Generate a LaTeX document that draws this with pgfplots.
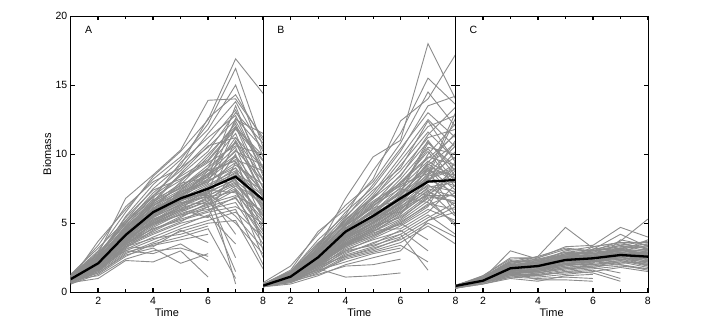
\documentclass[border=0pt]{standalone}
\usepackage{fontspec}
\setmainfont{Liberation Sans}
\usepackage{pgfplots}
\pgfplotsset{compat=1.18}

\definecolor{linegray}{RGB}{140,140,140}

% one simulated trajectory: values at time 1,2,3,...
\newcommand{\ser}[1]{\addplot[gl] table[row sep=\\, header=false, x expr=\coordindex+1, y index=0] {#1};}

\pgfplotsset{
  gl/.style={color=linegray, line width=0.9bp},
  panel/.style={
    scale only axis, width=192.4bp, height=276.3bp,
    anchor=south west,
    xmin=1, xmax=8, ymin=0, ymax=20,
    xtick={2,4,6,8}, minor xtick={3,5,7},
    ytick={0,5,10,15,20},
    tick align=inside, tick pos=both,
    major tick length=4bp, minor tick length=3bp,
    axis line style={line width=0.8bp},
    tick style={black, line width=0.6bp},
    every major x tick/.append style={line width=1.4bp},
    ticklabel style={font=\fontsize{10.5bp}{12bp}\selectfont},
    xticklabel style={yshift=-1bp},
    label style={font=\fontsize{11bp}{13bp}\selectfont},
    /pgf/number format/assume math mode=true,
    xlabel={Time},
    xlabel style={at={(axis description cs:0.5,0)}, anchor=center, yshift=-20bp},
  },
}

\begin{document}
\begin{tikzpicture}
\path (0,0) rectangle (712bp,325bp);

% ---------------- A ----------------
\begin{axis}[panel, at={(70.7bp,32.7bp)}, ylabel={Biomass},
  ylabel style={at={(axis description cs:-0.122,0.5)}, anchor=center}]
\ser{1.2\\3.0\\5.8\\8.4\\10.2\\12.5\\16.9\\14.4\\}
\ser{1.1\\2.8\\6.8\\8.5\\10.3\\13.9\\14.0\\11.2\\}
\ser{1.0\\2.5\\5.5\\7.8\\9.6\\12.2\\16.2\\10.5\\}
\ser{0.9\\3.7\\6.0\\8.2\\9.8\\11.8\\15.0\\9.8\\}
\ser{1.3\\3.2\\5.2\\7.5\\9.2\\12.6\\14.3\\11.0\\}
\ser{1.0\\2.4\\4.8\\7.0\\9.0\\11.5\\13.8\\10.2\\}
\ser{1.1\\2.6\\5.0\\7.2\\8.8\\10.8\\13.2\\9.0\\}
\ser{0.8\\2.2\\4.5\\6.8\\9.4\\11.2\\12.8\\8.6\\}
\ser{1.2\\3.4\\6.2\\8.0\\9.0\\10.5\\12.5\\11.5\\}
\ser{0.9\\2.0\\4.2\\6.5\\8.5\\10.2\\13.0\\10.8\\}
\ser{1.0\\2.3\\4.6\\6.2\\7.8\\9.8\\12.2\\8.0\\}
\ser{1.1\\2.7\\5.4\\7.4\\8.2\\9.5\\11.8\\9.5\\}
\ser{0.7\\1.8\\3.8\\6.0\\8.0\\10.0\\12.0\\7.5\\}
\ser{1.0\\2.1\\4.4\\6.4\\7.6\\9.2\\11.5\\6.8\\}
\ser{1.2\\2.9\\4.9\\6.6\\8.6\\10.6\\11.2\\8.2\\}
\ser{0.8\\1.9\\4.0\\5.8\\7.4\\9.0\\10.8\\7.2\\}
\ser{1.0\\2.2\\4.3\\5.9\\7.0\\8.6\\10.5\\5.8\\}
\ser{0.9\\2.4\\4.7\\6.3\\7.2\\8.4\\10.2\\9.2\\}
\ser{1.1\\2.0\\3.9\\5.6\\6.8\\8.2\\9.8\\6.2\\}
\ser{1.0\\2.6\\4.1\\5.4\\6.9\\8.8\\9.5\\5.2\\}
\ser{0.8\\1.7\\3.6\\5.5\\7.3\\8.0\\9.2\\7.8\\}
\ser{1.2\\2.5\\4.4\\5.7\\6.6\\7.6\\9.0\\4.5\\}
\ser{0.9\\2.2\\4.2\\5.9\\6.8\\7.8\\8.8\\6.0\\}
\ser{1.0\\1.9\\3.7\\5.2\\6.4\\7.5\\8.5\\7.0\\}
\ser{0.7\\1.6\\3.4\\5.0\\6.2\\7.2\\8.2\\3.8\\}
\ser{1.1\\2.3\\4.5\\6.1\\7.0\\7.0\\8.0\\5.5\\}
\ser{0.9\\2.1\\4.0\\5.3\\6.0\\6.8\\7.8\\6.4\\}
\ser{1.0\\2.0\\3.5\\4.8\\5.8\\6.6\\7.5\\2.5\\}
\ser{0.8\\1.8\\3.8\\5.1\\6.3\\7.4\\7.2\\4.8\\}
\ser{1.2\\2.4\\4.1\\5.6\\6.5\\6.4\\7.0\\5.9\\}
\ser{0.6\\1.5\\3.2\\4.5\\5.5\\6.2\\6.8\\4.2\\}
\ser{0.9\\2.0\\3.9\\5.0\\5.6\\6.0\\6.5\\3.5\\}
\ser{1.0\\2.2\\3.6\\4.6\\5.2\\5.8\\6.2\\5.0\\}
\ser{0.8\\1.7\\3.3\\4.2\\5.0\\5.5\\6.0\\2.0\\}
\ser{1.1\\2.5\\4.3\\5.8\\6.7\\7.2\\5.5\\3.2\\}
\ser{0.9\\1.9\\3.5\\4.4\\5.4\\6.5\\5.0\\2.8\\}
\ser{1.0\\2.0\\3.0\\3.8\\4.6\\5.2\\5.8\\4.0\\}
\ser{0.7\\1.4\\2.8\\3.6\\4.4\\5.0\\5.2\\1.7\\}
\ser{1.2\\2.3\\4.0\\5.4\\6.4\\7.0\\4.2\\}
\ser{0.8\\1.6\\3.1\\4.0\\4.8\\5.6\\3.5\\}
\ser{1.0\\2.1\\3.7\\4.9\\5.9\\6.9\\2.5\\}
\ser{0.9\\1.8\\3.4\\4.3\\5.1\\6.2\\1.5\\}
\ser{1.1\\2.2\\3.9\\5.2\\6.0\\7.6\\0.6\\}
\ser{0.6\\1.3\\2.6\\3.5\\4.0\\4.6\\1.0\\}
\ser{1.0\\1.9\\3.3\\3.9\\4.2\\4.8\\}
\ser{0.8\\1.5\\2.9\\3.4\\3.8\\4.2\\}
\ser{0.9\\1.2\\2.4\\3.0\\3.2\\2.6\\}
\ser{0.7\\1.0\\2.3\\2.2\\3.0\\1.1\\}
\ser{0.8\\1.4\\2.7\\3.2\\2.1\\2.8\\}
\ser{1.0\\1.6\\3.0\\2.8\\3.5\\2.3\\}
\ser{0.9\\1.7\\3.2\\3.3\\4.5\\3.6\\}
\ser{1.1\\2.4\\4.6\\6.3\\7.4\\8.6\\9.6\\8.8\\}
\ser{1.0\\2.6\\5.0\\6.9\\8.1\\9.4\\10.6\\10.0\\}
\ser{0.8\\2.0\\4.1\\6.0\\7.1\\8.1\\9.0\\6.6\\}
\ser{0.9\\1.9\\3.8\\5.6\\6.6\\7.7\\8.6\\7.4\\}
\ser{1.0\\2.2\\4.4\\5.9\\7.0\\7.9\\12.6\\10.4\\}
\ser{1.1\\2.5\\4.7\\6.5\\7.9\\8.3\\13.5\\8.4\\}
\ser{0.9\\2.0\\4.0\\5.5\\6.3\\7.3\\12.0\\9.6\\}
\ser{0.8\\1.7\\3.6\\5.3\\6.1\\6.7\\11.0\\7.6\\}
\ser{1.0\\2.3\\4.2\\5.8\\6.9\\7.1\\10.0\\3.0\\}
\ser{1.2\\2.8\\5.1\\6.7\\7.7\\8.9\\7.5\\5.3\\}
\ser{0.9\\2.1\\3.9\\5.0\\6.0\\5.4\\9.4\\6.9\\}
\ser{1.0\\2.3\\4.3\\5.9\\7.1\\8.0\\9.4\\7.3\\}
\ser{0.9\\2.0\\4.0\\5.6\\6.7\\7.5\\8.7\\6.1\\}
\ser{1.1\\2.2\\4.2\\5.7\\6.9\\8.4\\11.2\\9.0\\}
\ser{0.8\\1.9\\3.7\\5.1\\6.2\\7.0\\7.9\\5.6\\}
\ser{1.0\\2.1\\4.1\\5.5\\6.5\\6.9\\7.3\\4.4\\}
\ser{0.9\\2.4\\4.6\\6.6\\7.5\\8.8\\10.9\\7.0\\}
\ser{1.2\\2.7\\5.2\\7.0\\8.4\\9.6\\11.9\\9.9\\}
\ser{0.7\\1.6\\3.3\\4.7\\5.7\\6.3\\7.4\\5.1\\}
\ser{1.0\\2.0\\3.8\\5.0\\5.9\\6.6\\8.3\\6.5\\}
\ser{1.1\\2.5\\4.8\\6.4\\7.6\\9.0\\12.4\\8.9\\}
\ser{0.9\\1.8\\3.5\\4.6\\5.3\\5.9\\6.9\\3.9\\}
\ser{0.8\\2.1\\4.3\\6.1\\7.3\\8.5\\9.9\\7.1\\}
\ser{1.0\\2.3\\4.5\\6.0\\6.6\\7.3\\8.1\\6.3\\}
\ser{1.1\\2.0\\3.6\\4.9\\5.6\\6.4\\7.7\\5.7\\}
\ser{0.9\\2.2\\4.4\\5.8\\7.2\\8.2\\10.3\\8.1\\}
\addplot[black, line width=2.3bp] coordinates {(1,0.95)(2,2.1)(3,4.15)(4,5.8)(5,6.8)(6,7.5)(7,8.37)(8,6.7)};
\node[font=\fontsize{10.5bp}{12bp}\selectfont] at (axis cs:1.65,19) {A};
\end{axis}

% ---------------- B ----------------
\begin{axis}[panel, at={(263.1bp,32.7bp)}, yticklabels={}]
\ser{0.5\\1.4\\3.2\\6.8\\9.8\\11.0\\18.0\\14.0\\}
\ser{0.6\\1.6\\4.4\\6.0\\8.2\\12.4\\14.0\\17.2\\}
\ser{0.5\\1.5\\3.8\\5.6\\8.8\\11.5\\15.5\\13.6\\}
\ser{0.7\\1.9\\4.2\\6.3\\8.0\\10.8\\14.5\\12.0\\}
\ser{0.6\\1.3\\3.5\\5.8\\7.6\\10.2\\13.5\\14.2\\}
\ser{0.5\\1.2\\3.0\\5.4\\7.8\\10.4\\13.0\\11.2\\}
\ser{0.4\\1.4\\3.4\\5.2\\7.2\\9.8\\12.5\\10.5\\}
\ser{0.6\\1.5\\3.6\\5.0\\7.0\\9.5\\12.0\\12.8\\}
\ser{0.5\\1.1\\2.8\\4.9\\6.8\\9.2\\11.6\\9.6\\}
\ser{0.5\\1.3\\3.1\\5.3\\6.9\\8.8\\11.2\\11.8\\}
\ser{0.4\\1.0\\2.6\\4.6\\6.4\\8.5\\10.9\\8.8\\}
\ser{0.6\\1.2\\2.9\\4.8\\6.2\\8.2\\10.5\\10.0\\}
\ser{0.5\\1.4\\3.3\\5.1\\6.6\\7.9\\10.2\\7.6\\}
\ser{0.4\\1.1\\2.7\\4.5\\6.0\\8.0\\9.8\\9.2\\}
\ser{0.5\\1.2\\2.5\\4.4\\5.8\\7.6\\9.5\\8.2\\}
\ser{0.6\\1.0\\2.4\\4.2\\5.6\\7.4\\9.2\\10.8\\}
\ser{0.5\\1.3\\2.8\\4.7\\5.7\\7.2\\9.0\\6.8\\}
\ser{0.4\\0.9\\2.2\\4.0\\5.4\\7.0\\8.8\\8.5\\}
\ser{0.5\\1.1\\2.6\\4.3\\5.2\\6.8\\8.5\\9.8\\}
\ser{0.6\\1.2\\2.3\\3.9\\5.0\\6.6\\8.2\\7.2\\}
\ser{0.5\\1.0\\2.5\\4.1\\5.3\\6.4\\8.0\\11.0\\}
\ser{0.4\\1.1\\2.1\\3.7\\4.9\\6.2\\7.8\\6.2\\}
\ser{0.5\\0.9\\2.0\\3.6\\4.7\\6.0\\7.6\\8.0\\}
\ser{0.6\\1.3\\2.7\\4.4\\5.5\\5.8\\7.4\\5.5\\}
\ser{0.5\\1.0\\2.2\\3.8\\4.6\\5.7\\7.2\\9.0\\}
\ser{0.4\\0.8\\1.9\\3.4\\4.4\\5.5\\7.0\\7.0\\}
\ser{0.5\\1.1\\2.4\\3.9\\4.8\\5.4\\6.8\\4.8\\}
\ser{0.6\\1.2\\2.1\\3.5\\4.2\\5.2\\6.6\\8.6\\}
\ser{0.5\\0.9\\1.8\\3.2\\4.0\\5.0\\6.4\\6.0\\}
\ser{0.4\\1.0\\2.0\\3.3\\4.3\\4.9\\6.2\\9.5\\}
\ser{0.5\\0.8\\1.7\\3.0\\3.9\\4.8\\6.0\\5.2\\}
\ser{0.5\\1.1\\2.3\\3.6\\4.5\\4.6\\5.8\\7.8\\}
\ser{0.6\\1.0\\1.9\\3.1\\3.8\\4.4\\5.6\\4.2\\}
\ser{0.4\\0.9\\1.6\\2.8\\3.6\\4.2\\5.4\\6.5\\}
\ser{0.5\\1.0\\2.0\\3.0\\3.4\\4.0\\5.2\\5.8\\}
\ser{0.5\\0.8\\1.5\\2.6\\3.2\\3.8\\5.0\\4.0\\}
\ser{0.4\\0.7\\1.4\\2.5\\3.0\\3.6\\4.8\\3.5\\}
\ser{0.5\\0.9\\1.7\\2.7\\3.3\\4.2\\1.6\\}
\ser{0.4\\0.8\\1.5\\2.4\\2.9\\3.4\\2.2\\}
\ser{0.5\\1.0\\1.8\\2.9\\3.5\\4.5\\3.0\\}
\ser{0.6\\1.1\\2.2\\3.4\\4.1\\5.0\\3.8\\}
\ser{0.5\\0.7\\1.7\\1.1\\1.2\\1.4\\}
\ser{0.4\\0.8\\1.3\\1.9\\2.0\\2.4\\}
\ser{0.5\\0.9\\1.6\\2.2\\2.8\\3.2\\}
\ser{0.5\\1.0\\1.9\\2.6\\3.1\\3.9\\}
\ser{0.4\\0.6\\1.2\\2.0\\2.5\\3.0\\5.2\\6.2\\}
\ser{0.6\\1.3\\2.9\\4.6\\6.2\\7.8\\8.6\\13.0\\}
\ser{0.5\\1.2\\2.6\\4.5\\5.9\\7.3\\11.0\\8.4\\}
\ser{0.5\\1.1\\2.4\\4.0\\5.1\\6.5\\10.0\\12.2\\}
\ser{0.4\\1.0\\2.3\\3.8\\5.0\\6.3\\9.0\\7.4\\}
\ser{0.6\\1.4\\3.0\\4.8\\6.3\\7.5\\7.0\\6.6\\}
\ser{0.5\\1.2\\2.7\\4.3\\5.6\\6.9\\6.5\\5.0\\}
\ser{0.5\\1.0\\2.1\\3.5\\4.6\\5.9\\8.0\\10.2\\}
\ser{0.4\\0.9\\2.0\\3.4\\4.4\\5.6\\8.4\\9.0\\}
\ser{0.5\\1.1\\2.2\\3.6\\4.7\\6.1\\7.0\\8.8\\}
\ser{0.6\\1.5\\3.4\\5.5\\7.4\\9.0\\12.4\\9.4\\}
\ser{0.5\\1.3\\3.2\\5.2\\6.8\\8.4\\11.4\\13.4\\}
\ser{0.4\\1.0\\2.4\\4.1\\5.3\\7.0\\9.4\\11.5\\}
\ser{0.5\\1.2\\2.9\\4.9\\6.1\\6.7\\8.9\\5.6\\}
\ser{0.6\\1.4\\3.1\\5.0\\6.5\\7.7\\10.4\\8.0\\}
\ser{0.5\\1.2\\2.6\\4.4\\5.6\\6.9\\8.3\\7.7\\}
\ser{0.5\\1.1\\2.5\\4.2\\5.4\\6.7\\8.1\\9.3\\}
\ser{0.4\\1.0\\2.3\\4.0\\5.0\\6.2\\7.5\\6.9\\}
\ser{0.6\\1.3\\2.8\\4.6\\5.9\\7.1\\9.1\\8.3\\}
\ser{0.5\\1.2\\2.4\\4.1\\5.2\\6.6\\8.6\\10.6\\}
\ser{0.5\\1.0\\2.2\\3.7\\4.8\\6.1\\7.3\\6.4\\}
\ser{0.4\\0.9\\2.0\\3.5\\4.5\\5.8\\7.1\\8.2\\}
\ser{0.6\\1.4\\3.0\\4.9\\6.4\\7.9\\9.7\\11.4\\}
\ser{0.5\\1.1\\2.3\\3.9\\5.1\\6.4\\7.7\\7.3\\}
\ser{0.5\\1.3\\2.7\\4.5\\5.8\\7.2\\10.8\\9.1\\}
\ser{0.4\\1.0\\2.1\\3.5\\4.4\\5.3\\6.9\\6.6\\}
\ser{0.5\\1.2\\2.5\\4.0\\5.3\\6.5\\8.4\\12.6\\}
\ser{0.6\\1.2\\2.6\\4.3\\5.5\\7.0\\9.3\\7.9\\}
\ser{0.5\\1.0\\2.0\\3.3\\4.1\\5.1\\6.3\\7.2\\}
\ser{0.4\\1.1\\2.4\\4.2\\5.4\\6.8\\8.2\\8.9\\}
\addplot[black, line width=2.3bp] coordinates {(1,0.48)(2,1.13)(3,2.53)(4,4.39)(5,5.52)(6,6.8)(7,8.01)(8,8.13)};
\node[font=\fontsize{10.5bp}{12bp}\selectfont] at (axis cs:1.65,19) {B};
\end{axis}

% ---------------- C ----------------
\begin{axis}[panel, at={(455.5bp,32.7bp)}, yticklabels={}]
\ser{0.4\\1.0\\3.0\\2.4\\2.6\\3.0\\3.2\\2.9\\}
\ser{0.5\\1.1\\2.2\\2.6\\4.7\\3.2\\3.0\\2.8\\}
\ser{0.4\\1.2\\2.5\\2.5\\3.3\\3.4\\4.7\\4.0\\}
\ser{0.5\\1.0\\2.0\\2.6\\3.2\\3.0\\3.7\\5.3\\}
\ser{0.4\\0.9\\1.9\\2.2\\3.0\\3.3\\3.6\\3.6\\}
\ser{0.3\\0.8\\1.8\\2.0\\2.8\\2.9\\3.4\\3.0\\}
\ser{0.4\\1.0\\2.1\\2.3\\2.9\\2.8\\3.2\\3.3\\}
\ser{0.5\\1.1\\2.3\\2.1\\2.7\\3.1\\3.5\\3.2\\}
\ser{0.4\\0.9\\1.7\\2.0\\2.6\\2.7\\3.1\\2.7\\}
\ser{0.4\\0.8\\1.6\\1.9\\2.5\\2.6\\3.0\\3.1\\}
\ser{0.3\\0.9\\1.8\\2.1\\2.4\\2.5\\2.9\\2.5\\}
\ser{0.4\\1.0\\1.9\\1.8\\2.3\\2.6\\2.8\\2.6\\}
\ser{0.5\\0.9\\1.5\\1.7\\2.2\\2.4\\2.7\\2.4\\}
\ser{0.4\\0.8\\1.6\\1.8\\2.4\\2.3\\2.6\\2.8\\}
\ser{0.3\\0.7\\1.4\\1.6\\2.1\\2.2\\2.5\\2.3\\}
\ser{0.4\\0.8\\1.5\\1.7\\2.0\\2.4\\2.8\\2.2\\}
\ser{0.4\\0.9\\1.7\\1.9\\2.3\\2.5\\2.4\\2.0\\}
\ser{0.5\\1.0\\2.0\\2.2\\2.6\\2.7\\2.6\\2.1\\}
\ser{0.4\\0.7\\1.3\\1.5\\1.9\\2.1\\2.3\\1.9\\}
\ser{0.3\\0.8\\1.4\\1.5\\1.8\\2.0\\2.2\\1.8\\}
\ser{0.4\\0.7\\1.2\\1.4\\1.7\\1.9\\2.0\\1.6\\}
\ser{0.4\\0.9\\1.6\\1.6\\1.9\\2.2\\2.4\\2.5\\}
\ser{0.3\\0.6\\1.1\\1.3\\1.6\\1.8\\2.1\\2.2\\}
\ser{0.4\\0.8\\1.3\\1.2\\1.5\\1.7\\1.9\\1.7\\}
\ser{0.4\\0.7\\1.2\\1.1\\1.3\\1.5\\1.8\\1.5\\}
\ser{0.5\\0.8\\1.4\\0.9\\0.9\\0.8\\}
\ser{0.4\\0.7\\1.1\\1.0\\1.1\\1.0\\}
\ser{0.3\\0.6\\1.0\\0.8\\1.2\\1.3\\}
\ser{0.4\\0.8\\1.3\\1.3\\1.4\\1.6\\1.0\\}
\ser{0.4\\0.7\\1.2\\1.2\\1.5\\1.4\\0.8\\}
\ser{0.5\\0.9\\1.5\\1.4\\1.7\\1.8\\1.4\\}
\ser{0.4\\1.0\\1.9\\2.1\\2.5\\2.8\\3.0\\3.4\\}
\ser{0.5\\1.1\\2.1\\2.4\\2.7\\3.0\\3.3\\3.5\\}
\ser{0.4\\0.9\\1.8\\2.0\\2.6\\2.6\\2.9\\2.9\\}
\ser{0.3\\0.8\\1.7\\1.9\\2.4\\2.7\\2.7\\2.7\\}
\ser{0.4\\1.0\\2.0\\2.1\\2.3\\2.9\\3.1\\2.6\\}
\ser{0.5\\0.9\\1.6\\1.8\\2.2\\2.3\\2.5\\3.0\\}
\ser{0.4\\0.8\\1.5\\2.0\\2.5\\2.4\\2.9\\2.4\\}
\ser{0.4\\0.9\\1.9\\2.3\\2.8\\2.8\\3.0\\3.8\\}
\ser{0.3\\0.7\\1.3\\1.6\\2.0\\2.0\\2.3\\2.0\\}
\ser{0.4\\0.8\\1.4\\1.7\\2.1\\2.1\\3.8\\3.4\\}
\ser{0.5\\1.0\\1.8\\2.2\\2.6\\2.4\\3.2\\2.3\\}
\ser{0.4\\0.9\\1.7\\1.8\\2.3\\3.3\\3.6\\3.1\\}
\ser{0.4\\0.8\\1.5\\1.9\\2.4\\2.2\\2.6\\1.9\\}
\ser{0.5\\1.2\\2.4\\2.5\\3.1\\3.0\\3.4\\3.7\\}
\ser{0.4\\1.0\\2.2\\2.4\\2.9\\3.1\\4.2\\3.3\\}
\ser{0.3\\0.7\\1.4\\1.4\\1.8\\1.9\\2.2\\2.1\\}
\ser{0.4\\0.8\\1.6\\1.5\\2.1\\2.3\\2.0\\1.7\\}
\ser{0.4\\0.9\\1.8\\2.0\\2.5\\2.6\\2.7\\3.2\\}
\ser{0.5\\1.1\\2.0\\1.9\\2.4\\2.5\\2.8\\2.8\\}
\ser{0.4\\0.9\\1.8\\2.0\\2.4\\2.6\\2.8\\2.7\\}
\ser{0.5\\1.0\\1.9\\2.1\\2.5\\2.5\\2.9\\2.6\\}
\ser{0.4\\0.8\\1.6\\1.8\\2.2\\2.4\\2.6\\2.4\\}
\ser{0.4\\0.9\\1.7\\1.9\\2.3\\2.5\\2.7\\2.9\\}
\ser{0.5\\1.1\\2.2\\2.3\\2.7\\2.8\\3.1\\2.8\\}
\ser{0.3\\0.8\\1.5\\1.7\\2.1\\2.2\\2.4\\2.2\\}
\ser{0.4\\1.0\\2.0\\2.2\\2.6\\2.7\\3.0\\3.0\\}
\ser{0.4\\0.9\\1.9\\2.2\\2.7\\2.6\\2.9\\2.5\\}
\ser{0.5\\0.9\\1.7\\1.9\\2.3\\2.5\\3.2\\3.5\\}
\ser{0.4\\0.8\\1.4\\1.6\\2.0\\2.3\\2.5\\2.3\\}
\addplot[black, line width=2.3bp] coordinates {(1,0.46)(2,0.84)(3,1.74)(4,1.9)(5,2.34)(6,2.46)(7,2.7)(8,2.58)};
\node[font=\fontsize{10.5bp}{12bp}\selectfont] at (axis cs:1.65,19) {C};
\end{axis}
\end{tikzpicture}
\end{document}
